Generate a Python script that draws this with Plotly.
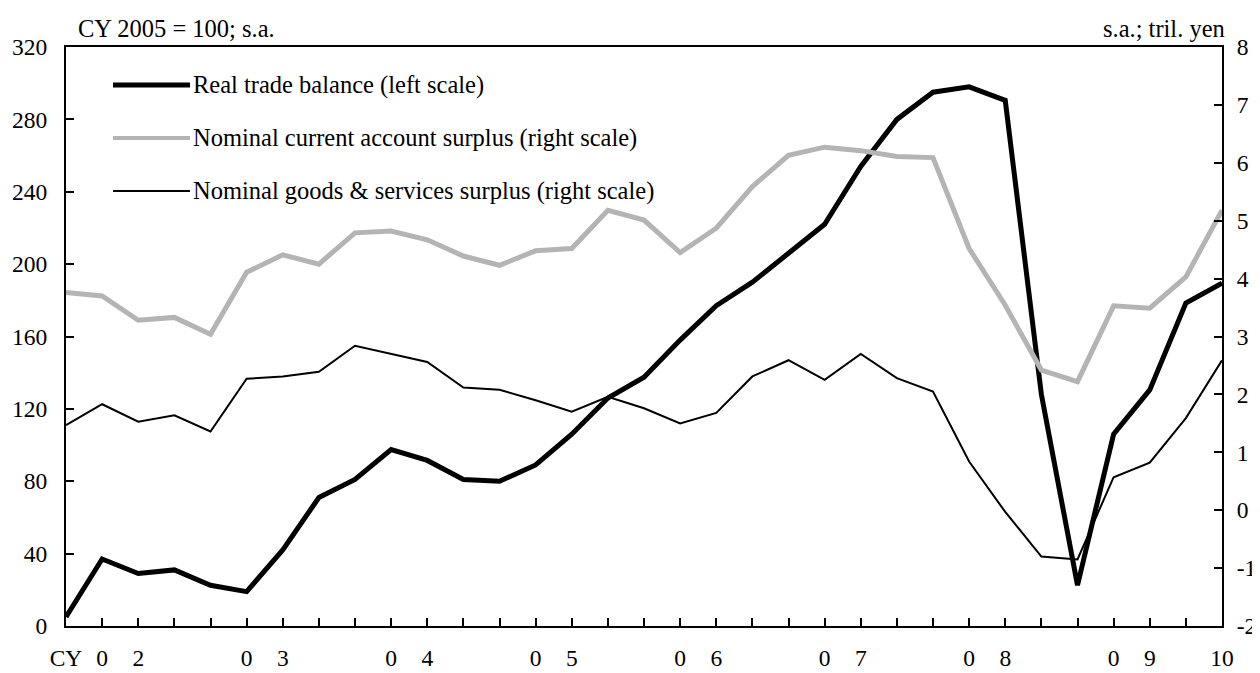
import plotly.graph_objects as go

# quarterly positions 2002Q1 .. 2010Q1
quarters = list(range(33))
tick_text = ["CY", "0", "2", "", "", "0", "3", "", "", "0", "4", "", "", "0", "5", "",
             "", "0", "6", "", "", "0", "7", "", "", "0", "8", "", "", "0", "9", "", "10"]

real_trade_balance = [5, 37, 29, 31, 22.5, 19, 42, 71, 81, 97.5, 91.5,
                      81, 80, 89, 106, 126, 137.5, 158, 177, 190, 206, 222,
                      254, 280, 295, 298, 290.5, 128, 22.5, 106, 130.5, 178.5, 189.5]
current_account = [3.76, 3.70, 3.28, 3.33, 3.04, 4.11, 4.41, 4.25, 4.79, 4.82, 4.67,
                   4.39, 4.23, 4.48, 4.52, 5.18, 5.01, 4.45, 4.87, 5.59, 6.13, 6.27,
                   6.21, 6.11, 6.09, 4.52, 3.54, 2.42, 2.22, 3.53, 3.49, 4.03, 5.18]
goods_services = [1.47, 1.83, 1.53, 1.64, 1.36, 2.27, 2.31, 2.39, 2.84, 2.70, 2.56,
                  2.12, 2.08, 1.90, 1.70, 1.96, 1.76, 1.50, 1.68, 2.31, 2.59, 2.25,
                  2.70, 2.28, 2.05, 0.84, -0.03, -0.80, -0.85, 0.57, 0.82, 1.59, 2.59]

left_ticks = [0, 40, 80, 120, 160, 200, 240, 280, 320]
right_ticks = [-2, -1, 0, 1, 2, 3, 4, 5, 6, 7, 8]
right_labels = ["-2", "-1", "0", "1", "2", "3", "4", "5", "6", "7", "8"]

names = ["Real trade balance (left scale)",
         "Nominal current account surplus (right scale)",
         "Nominal goods & services surplus (right scale)"]

FONT = "Liberation Serif, Times New Roman, serif"
FS = 24.5
TFS = 23.5

# page body has an 8px margin; figure coordinates below are relative to the figure
OFF = 8
FIG_W, FIG_H = 1260 - OFF, 673 - OFF
W, H = 1156, 579
L, T = 66 - OFF, 47 - OFF


def px_x(px):
    return (px - OFF - L) / W


def px_y(py):
    return (T + H - (py - OFF)) / H


fig = go.Figure()
fig.add_trace(go.Scatter(x=quarters, y=current_account, yaxis="y2", mode="lines",
                         line=dict(color="#b4b4b4", width=5), name=names[1]))
fig.add_trace(go.Scatter(x=quarters, y=goods_services, yaxis="y2", mode="lines",
                         line=dict(color="black", width=2), name=names[2]))
fig.add_trace(go.Scatter(x=quarters, y=real_trade_balance, yaxis="y", mode="lines",
                         line=dict(color="black", width=5), name=names[0]))

# manual legend
leg_styles = [dict(color="black", width=5), dict(color="#b4b4b4", width=4),
              dict(color="black", width=2)]
leg_y = [85, 138, 191]
for nm, st, py in zip(names, leg_styles, leg_y):
    yp = px_y(py)
    fig.add_shape(type="line", xref="paper", yref="paper",
                  x0=px_x(113), x1=px_x(190), y0=yp, y1=yp, line=st)
    fig.add_annotation(xref="paper", yref="paper", x=px_x(191), y=yp,
                       text=nm, showarrow=False, xanchor="left", yanchor="middle",
                       font=dict(family=FONT, size=FS, color="black"))

fig.add_annotation(xref="paper", yref="paper", x=px_x(76), y=px_y(29),
                   text="CY 2005 = 100; s.a.", showarrow=False, xanchor="left",
                   yanchor="middle", font=dict(family=FONT, size=FS, color="black"))
fig.add_annotation(xref="paper", yref="paper", x=px_x(1227), y=px_y(29),
                   text="s.a.; tril. yen", showarrow=False, xanchor="right",
                   yanchor="middle", font=dict(family=FONT, size=FS, color="black"))

axis_common = dict(ticks="inside", ticklen=8, tickwidth=2, tickcolor="black",
                   showline=True, linecolor="black", linewidth=2,
                   showgrid=False, zeroline=False, automargin=False,
                   tickfont=dict(family=FONT, size=TFS, color="black"))

fig.update_layout(
    width=FIG_W, height=FIG_H,
    margin=dict(l=L, r=FIG_W - L - W, t=T, b=FIG_H - T - H, autoexpand=False),
    paper_bgcolor="white", plot_bgcolor="white",
    showlegend=False,
    font=dict(family=FONT, size=FS, color="black"),
    xaxis=dict(range=[0, 32], tickvals=quarters, ticktext=tick_text, mirror=True,
               tickangle=0, ticklabelstandoff=10, **axis_common),
    yaxis=dict(range=[0, 320], tickvals=left_ticks, ticklabelstandoff=12,
               **axis_common),
    yaxis2=dict(range=[-2, 8], tickvals=right_ticks, ticktext=right_labels,
                overlaying="y", side="right", ticklabelstandoff=8, **axis_common),
)

fig.write_html("out.html")
